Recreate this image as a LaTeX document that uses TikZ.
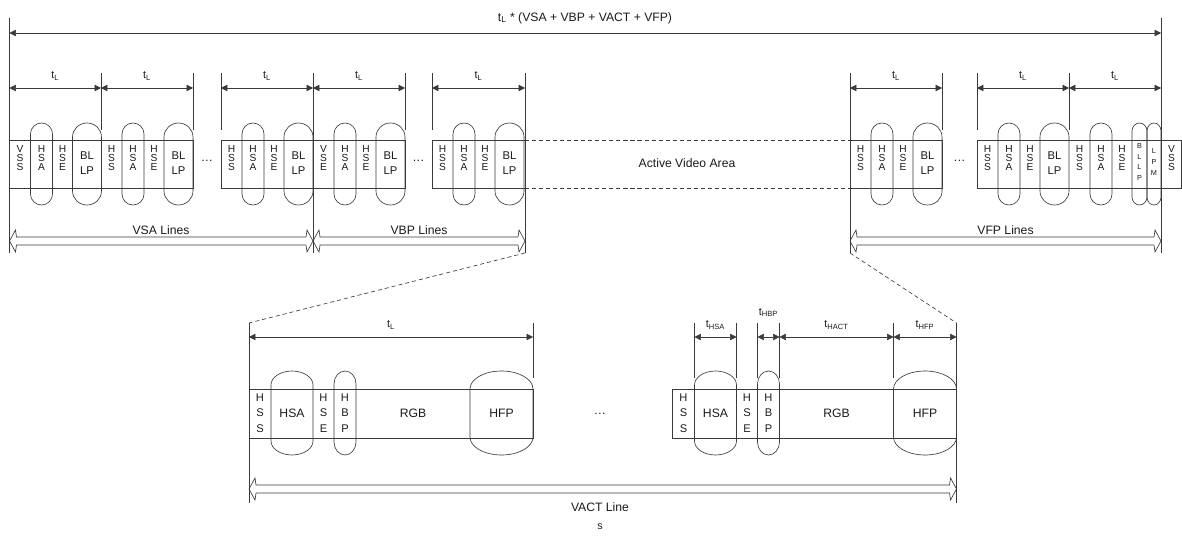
\documentclass[tikz,border=0pt]{standalone}
\usepackage{fontspec}
\setmainfont{Liberation Sans}
\usetikzlibrary{arrows.meta}
\definecolor{ink}{HTML}{3A3A3A}
\definecolor{txt}{HTML}{1A1A1A}

% packet outline: x from, x to, top, bottom, cap height
\newcommand\pill[5]{\draw[ln] (#1,#3+#5) arc[start angle=180,end angle=360,x radius={((#2)-(#1))/2},y radius=#5]
  -- (#2,#4-#5) arc[start angle=0,end angle=180,x radius={((#2)-(#1))/2},y radius=#5] -- cycle;}
% hollow span arrow between two named coordinates
\newcommand\widearrow[2]{\draw[ln] (#1) -- ++(6,-11) -- ++(1,7) -- ([shift={(-7,-4)}]#2) -- ++(1,-7) -- (#2)
  -- ++(-6,11) -- ++(-1,-7) -- ([shift={(7,4)}]#1) -- ++(-1,7) -- cycle;}

\begin{document}
\begin{tikzpicture}[x=0.03cm,y=-0.03cm,
  ln/.style={draw=ink,line width=0.55pt},
  dim/.style={ln,{Triangle[length=5.5pt,width=5.5pt]}-{Triangle[length=5.5pt,width=5.5pt]}},
  dsh/.style={ln,dash pattern=on 3.5pt off 2.5pt},
  cell/.style={text=txt,inner sep=0pt,align=center,font=\fontsize{8.7}{7.7}\selectfont},
  cellb/.style={cell,font=\fontsize{9.5}{13.4}\selectfont},
  bl/.style={cell,font=\fontsize{9.6}{12.8}\selectfont},
  tiny/.style={cell,font=\fontsize{6.2}{9}\selectfont},
  lbl/.style={text=txt,inner sep=0pt,font=\fontsize{10.4}{12}\selectfont},
  tl/.style={text=txt,inner sep=0pt,font=\fontsize{9.2}{10}\selectfont}]
  \useasboundingbox (0,0) rectangle (1182,541);

  % frame time
  \coordinate (tl) at (9.5,33);
  \coordinate (tr) at (1161,33);
  \draw[dim] (tl) -- (tr);
  \node[lbl] (total) at (585,18) {t\textsubscript{L} * (VSA + VBP + VACT + VFP)};

  % guides
  \draw[ln] (9.5,18) -- (9.5,253) (1161,18) -- (1161,253);
  \foreach \x in {313,525,850} \draw[ln] (\x,73) -- (\x,253);
  \foreach \x in {101,193,221,405,432,942,977,1069} \draw[ln] (\x,73) -- (\x,130);

  % line times
  \foreach \x [count=\i] in {9.5,101,193,221,313,405,432,525,850,942,977,1069,1161} \coordinate (m\i) at (\x,88);
  \foreach \a/\b in {1/2,2/3,4/5,5/6,7/8,9/10,11/12,12/13}
    \draw[dim] (m\a) -- node[tl,midway,yshift=10pt] (t\a) {t\textsubscript{L}} (m\b);

  % vertical blanking lines
  \foreach \a/\b in {9.5/193,221/405,432/525,850/942,977/1181.5} \draw[ln] (\a,140) rectangle (\b,188);
  \foreach \x/\f [count=\i] in {9.5/{V\\S\\S},101/{H\\S\\S},221/{H\\S\\S},313/{V\\S\\E},432/{H\\S\\S},850/{H\\S\\S},977/{H\\S\\S}}{
    \pill{\x+21}{\x+43}{123}{205}{11}
    \pill{\x+63}{\x+92}{123}{205}{14}
    \node[cell] (fs\i) at (\x+10.5,158) {\f};
    \node[cell] (sa\i) at (\x+32,158) {H\\S\\A};
    \node[cell] (se\i) at (\x+53,158) {H\\S\\E};
    \node[bl] (bl\i) at (\x+77.5,163) {BL\\LP};
  }
  % last line
  \pill{1090}{1112}{123}{205}{11}
  \pill{1132}{1147}{123}{205}{8}
  \pill{1147}{1161}{123}{205}{8}
  \node[cell] (fs8) at (1079.5,158) {H\\S\\S};
  \node[cell] (sa8) at (1101,158) {H\\S\\A};
  \node[cell] (se8) at (1122,158) {H\\S\\E};
  \node[tiny] (bllp) at (1139.5,162) {B\\L\\L\\P};
  \node[tiny] (lpm) at (1154,162) {L\\P\\M};
  \node[cell] (vss) at (1171.5,158) {V\\S\\S};

  \node[lbl,anchor=base] (dots1) at (207,162) {\dots};
  \node[lbl,anchor=base] (dots2) at (418.5,162) {\dots};
  \node[lbl,anchor=base] (dots3) at (959.5,162) {\dots};

  % active area
  \coordinate (av1) at (525,140);
  \coordinate (av2) at (850,140);
  \coordinate (av3) at (525,188);
  \coordinate (av4) at (850,188);
  \draw[dsh] (av1) -- (av2) (av3) -- (av4);
  \node[lbl] (active) at (687,163) {Active Video Area};

  % line counts
  \foreach \x [count=\i] in {9.5,313,525,850,1161} \coordinate (s\i) at (\x,241);
  \widearrow{s1}{s2}
  \widearrow{s2}{s3}
  \widearrow{s4}{s5}
  \node[lbl,anchor=base] (vsa) at (161,234.5) {VSA Lines};
  \node[lbl,anchor=base] (vbp) at (419,234.5) {VBP Lines};
  \node[lbl,anchor=base] (vfp) at (1005.5,234.5) {VFP Lines};

  % zoom into one active line
  \coordinate (z1) at (525,253);
  \coordinate (z2) at (249,323);
  \coordinate (z3) at (850,253);
  \coordinate (z4) at (956.5,323);
  \draw[dsh] (z1) -- (z2) (z3) -- (z4);

  \foreach \x [count=\i] in {249,672.5}{
    \draw[ln] (\x,389) rectangle (\x+284,438);
    \pill{\x+22}{\x+64}{371}{455}{14}
    \pill{\x+85}{\x+107}{371}{455}{13}
    \pill{\x+221}{\x+284}{371}{455}{18}
    \node[cellb] (hss\i) at (\x+11,413) {H\\S\\S};
    \node[lbl] (hsa\i) at (\x+43,413) {HSA};
    \node[cellb] (hse\i) at (\x+74.5,413) {H\\S\\E};
    \node[cellb] (hbp\i) at (\x+96,413) {H\\B\\P};
    \node[lbl] (rgb\i) at (\x+164,413) {RGB};
    \node[lbl] (hfp\i) at (\x+252.5,413) {HFP};
  }
  \node[lbl,anchor=base] (dots4) at (600,414) {\dots};

  % horizontal times
  \draw[ln] (249,323) -- (249,503) (956.5,323) -- (956.5,503) (533,323) -- (533,378);
  \foreach \x in {694.5,736.5,757.5,779.5,893.5} \draw[ln] (\x,323) -- (\x,378);
  \coordinate (b0) at (249,337);
  \coordinate (b1) at (533,337);
  \foreach \x [count=\i] in {694.5,736.5,757.5,779.5,893.5,956.5} \coordinate (h\i) at (\x,337);
  \draw[dim] (b0) -- node[tl,midway,yshift=10pt] (tline) {t\textsubscript{L}} (b1);
  \draw[dim] (h1) -- node[tl,midway,yshift=10pt] (thsa) {t\textsubscript{HSA}} (h2);
  \draw[dim] (h3) -- node[tl,midway,yshift=21pt] (thbp) {t\textsubscript{HBP}} (h4);
  \draw[dim] (h4) -- node[tl,midway,yshift=10pt] (thact) {t\textsubscript{HACT}} (h5);
  \draw[dim] (h5) -- node[tl,midway,yshift=10pt] (thfp) {t\textsubscript{HFP}} (h6);

  \coordinate (s6) at (249,489);
  \coordinate (s7) at (956.5,489);
  \widearrow{s6}{s7}
  \node[lbl] (vact) at (600,507) {VACT Line};
  \node[tl] (note) at (600,527) {s};
\end{tikzpicture}
\end{document}
